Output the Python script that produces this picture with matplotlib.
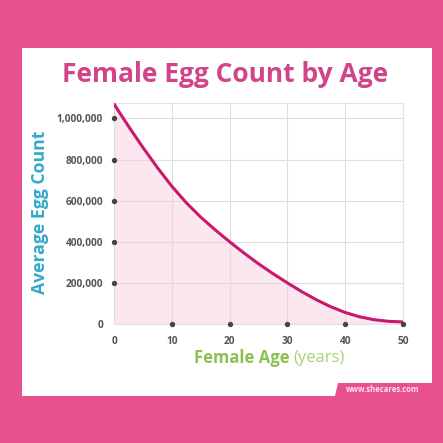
import matplotlib.pyplot as plt
from matplotlib.patches import Rectangle, Polygon

plt.rcParams["font.family"] = ["Open Sans", "DejaVu Sans"]

# values
ages = [0, 2.5, 5, 7.5, 10, 12.5, 15, 17.5, 20, 22.5, 25, 27.5, 30,
        32.5, 35, 37.5, 40, 42.5, 45, 47.5, 50]
egg_counts = [1070000, 962000, 859000, 761000, 670000, 590000, 520000, 458000,
              400000, 345000, 293000, 245000, 200000, 157000, 118000, 84000,
              56000, 35000, 21000, 13000, 10000]
x_ticks = [0, 10, 20, 30, 40, 50]
y_ticks = [0, 200000, 400000, 600000, 800000, 1000000]
y_tick_labels = ["0", "200,000", "400,000", "600,000", "800,000", "1,000,000"]

W = H = 443
PINK = "#e8508f"
TITLE = "#d2448a"
CURVE = "#c8196e"
FILL = "#fce6f0"
TEAL = "#35a9c9"
GREEN = "#8cc152"
TICK = "#555555"

fig = plt.figure(figsize=(W / 100, H / 100), dpi=100)
fig.patch.set_facecolor(PINK)


def fx(px):
    return px / W


def fy(py):
    return 1 - py / H


# white card
fig.patches.append(Rectangle((fx(22), fy(396)), fx(432) - fx(22), fy(48) - fy(396),
                             transform=fig.transFigure, facecolor="white",
                             edgecolor="none", zorder=-2))
# pink tab at the bottom right
fig.patches.append(Polygon([(fx(335), fy(396)), (fx(338), fy(383)),
                            (fx(432), fy(383)), (fx(432), fy(396))],
                           closed=True, transform=fig.transFigure,
                           facecolor=PINK, edgecolor="none", zorder=-1))

ax = fig.add_axes([fx(114), fy(324), fx(403) - fx(114), fy(103) - fy(324)])
ax.set_zorder(2)
ax.set_facecolor("white")
ax.set_xlim(0, 50)
ax.set_ylim(0, 1075000)

ax.fill_between(ages, egg_counts, 0, color=FILL, zorder=1)
ax.plot(ages, egg_counts, color=CURVE, lw=2.2, solid_capstyle="round", zorder=3)

ax.set_xticks(x_ticks)
ax.set_yticks(y_ticks)
ax.grid(True, color="#dedede", lw=0.8, zorder=2)
ax.set_axisbelow(False)
for s in ax.spines.values():
    s.set_color("#e2e2e2")
    s.set_linewidth(0.8)
ax.tick_params(length=0, colors=TICK, labelsize=7.3)
ax.set_xticklabels([str(v) for v in x_ticks], fontweight="bold", color=TICK)
ax.set_yticklabels(y_tick_labels, fontweight="bold", color=TICK)
ax.tick_params(axis="x", pad=9)
ax.tick_params(axis="y", pad=8)

# tick dots
ax.scatter([0] * (len(y_ticks) - 1), y_ticks[1:], s=8, color="#444444",
           clip_on=False, zorder=5)
ax.scatter(x_ticks[1:], [0] * (len(x_ticks) - 1), s=8, color="#444444",
           clip_on=False, zorder=5)

fig.text(fx(225), fy(75), "Female Egg Count by Age", ha="center", va="center",
         fontsize=19, fontweight="bold", color=TITLE)
fig.text(fx(40), fy(212), "Average Egg Count", ha="center", va="center",
         rotation=90, fontsize=12.7, fontweight="bold", color=TEAL)
fig.text(fx(290), fy(358), "Female Age", ha="right", va="center",
         fontsize=12, fontweight="bold", color=GREEN)
fig.text(fx(293), fy(358), "(years)", ha="left", va="center",
         fontsize=12, color="#a6d07a")
fig.text(fx(383), fy(389.5), "www.shecares.com", ha="center", va="center",
         fontsize=5.5, fontweight="bold", color="#fbe3ee")

fig.savefig("out.png", dpi=100, facecolor=PINK)
